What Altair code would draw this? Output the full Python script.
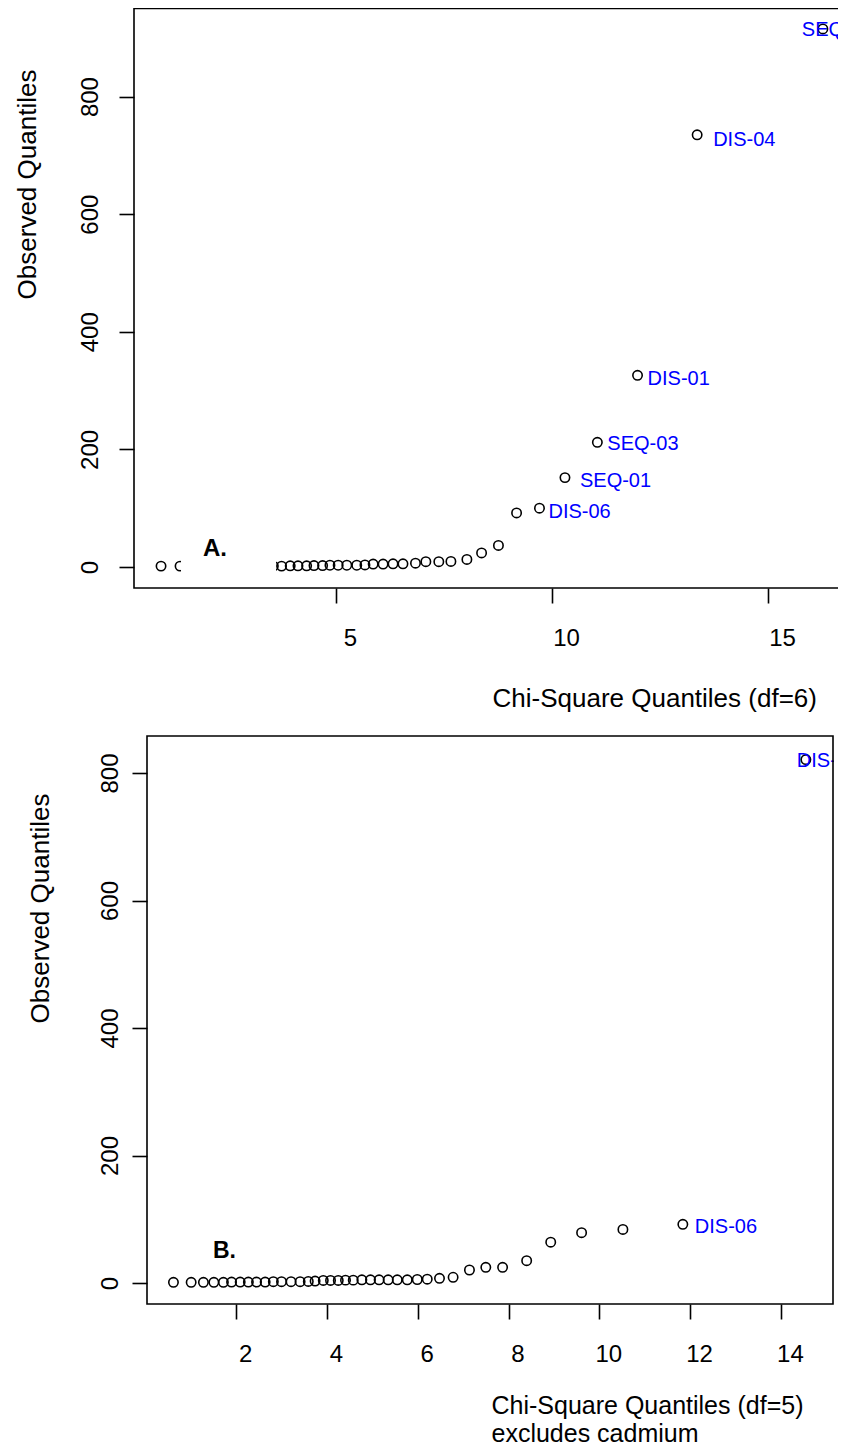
import altair as alt
import pandas as pd

# ---------------- data ----------------
# Panel A: Chi-square quantiles (df=6) vs observed quantiles
a_chisq = [0.95, 1.39, 3.55, 3.74, 3.94, 4.12, 4.32, 4.49, 4.69, 4.86,
           5.05, 5.25, 5.48, 5.67, 5.86, 6.09, 6.32, 6.55, 6.84, 7.08,
           7.38, 7.66, 8.03, 8.37, 8.76, 9.18, 9.71, 10.30, 11.05, 11.98,
           13.36, 16.27]
a_obs = [1.5, 1.5, 1.5, 1.5, 2, 2, 2, 2.5, 2.5, 3,
         3, 3, 3, 3.5, 5, 5, 5.5, 5.5, 6.5, 9,
         9, 9.5, 12.8, 24, 36.6, 92, 100, 152, 212, 326,
         735, 915]
a_names = [""] * 26 + ["DIS-06", "SEQ-01", "SEQ-03", "DIS-01", "DIS-04", "SEQ-02"]

# Panel B: Chi-square quantiles (df=5), cadmium excluded
b_chisq = [0.62, 1.01, 1.28, 1.51, 1.72, 1.90, 2.09, 2.27, 2.45, 2.64,
           2.82, 3.00, 3.21, 3.41, 3.59, 3.74, 3.92, 4.08, 4.25, 4.41,
           4.58, 4.77, 4.96, 5.15, 5.35, 5.55, 5.77, 5.99, 6.21, 6.48,
           6.78, 7.14, 7.50, 7.87, 8.40, 8.93, 9.61, 10.52, 11.84, 14.55]
b_obs = [1, 1, 1, 1, 1, 1.5, 1.5, 1.5, 1.5, 1.5,
         2, 2, 2, 2, 2.5, 3, 4, 4, 4, 4.5,
         4.5, 5, 5, 5, 5, 5, 5, 5.5, 6, 7.3,
         9, 20.4, 24.6, 24.6, 35, 64, 79, 84, 92, 821]
b_names = [""] * 38 + ["DIS-06", "DIS-04"]

a_ticks_x = [5, 10, 15]
b_ticks_x = [2, 4, 6, 8, 10, 12, 14]
ticks_y = [0, 200, 400, 600, 800]

title_a_x = "Chi-Square Quantiles (df=6)"
title_b_x = ["Chi-Square Quantiles (df=5)", "excludes cadmium"]
title_y = "Observed Quantiles"

# ---------------- layout / style (pixels) ----------------
W, H = 830, 1440
FONT = "Liberation Sans"
BLUE = "#0000ff"
LW = 1.6

# label offsets (dx, dy) in px
a_label_off = {"DIS-06": (9, 4), "SEQ-01": (15, 3), "SEQ-03": (10, 2),
               "DIS-01": (10, 4), "DIS-04": (16, 5), "SEQ-02": (-21, 1)}
b_label_off = {"DIS-06": (12, 3), "DIS-04": (-9, 1)}

# scale domains chosen so that each panel lands at its pixel position
A_X = [(8 - 120) / 43.2, (8 + W - 120) / 43.2]
A_Y = [(567 - 8 - H) / 0.588, (567 - 8) / 0.588]
B_X = [(8 - 145.3) / 45.4, (8 + W - 145.3) / 45.4]
B_Y = [(1283 - 8 - H) / 0.6375, (1283 - 8) / 0.6375]

dfA = pd.DataFrame({"x": a_chisq, "y": a_obs, "name": a_names})
dfB = pd.DataFrame({"x": b_chisq, "y": b_obs, "name": b_names})
one = pd.DataFrame({"k": [0]})


def axis_common(**kw):
    base = dict(domain=False, grid=False, tickSize=15, tickWidth=LW,
                tickColor="black", labelFont=FONT, labelFontSize=24,
                labelColor="black", labelFlush=False, labelOverlap=False,
                titleFont=FONT, titleFontSize=26, titleFontWeight="normal",
                titleColor="black")
    base.update(kw)
    return alt.Axis(**base)


def panel_layers(df, xdom, ydom, xaxis, yaxis, offsets, frame, mask, tag):
    xs = alt.Scale(domain=xdom, nice=False, zero=False)
    ys = alt.Scale(domain=ydom, nice=False, zero=False)
    layers = [alt.Chart(df).mark_point(shape="circle", filled=False,
                                       color="black", strokeWidth=1.6,
                                       size=88, opacity=1).encode(
        x=alt.X("x:Q", scale=xs, axis=xaxis),
        y=alt.Y("y:Q", scale=ys, axis=yaxis),
    )]
    for name, (dx, dy) in offsets.items():
        layers.append(
            alt.Chart(df).transform_filter(alt.datum.name == name).mark_text(
                align="left", baseline="middle", dx=dx, dy=dy, fontSize=20,
                font=FONT, color=BLUE).encode(
                x=alt.X("x:Q", scale=xs, axis=None),
                y=alt.Y("y:Q", scale=ys, axis=None),
                text="name:N")
        )
    layers.append(alt.Chart(one).mark_rect(color="white").encode(
        x=alt.value(mask[0]), x2=alt.value(mask[1]),
        y=alt.value(mask[2]), y2=alt.value(mask[3])))
    layers.append(alt.Chart(one).mark_text(
        text=tag[0], font=FONT, fontWeight="bold", fontSize=tag[3],
        align="left", baseline="alphabetic", color="black").encode(
        x=alt.value(tag[1]), y=alt.value(tag[2])))
    layers.append(alt.Chart(one).mark_rect(
        fillOpacity=0, stroke="black", strokeWidth=LW).encode(
        x=alt.value(frame[0]), x2=alt.value(frame[1]),
        y=alt.value(frame[2]), y2=alt.value(frame[3])))
    return layers


axA_x = axis_common(values=a_ticks_x, orient="bottom", offset=-(H - 580),
                    labelPadding=23, labelBaseline="top", labelOffset=14,
                    title=title_a_x, titleX=484, titleY=118,
                    titleAlign="left", titleBaseline="alphabetic")
axA_y = axis_common(values=ticks_y, orient="left", offset=-126,
                    labelAngle=270, labelAlign="center",
                    labelBaseline="alphabetic", labelPadding=22,
                    title=title_y, titleAngle=270, titleAlign="center",
                    titleBaseline="alphabetic", titleX=-99, titleY=176)
axB_x = axis_common(values=b_ticks_x, orient="bottom", offset=-(H - 1296),
                    labelPadding=23, labelBaseline="top", labelOffset=9,
                    title=title_b_x, titleX=483, titleY=109,
                    titleFontSize=25,
                    titleAlign="left", titleBaseline="alphabetic",
                    titleLineHeight=28)
axB_y = axis_common(values=ticks_y, orient="left", offset=-139,
                    labelAngle=270, labelAlign="center",
                    labelBaseline="alphabetic", labelPadding=15,
                    title=title_y, titleAngle=270, titleAlign="center",
                    titleBaseline="alphabetic", titleX=-99, titleY=900)

layers = panel_layers(dfA, A_X, A_Y, axA_x, axA_y, a_label_off,
                      frame=(126, 845, 0.5, 580), mask=(173, 268, 518, 568),
                      tag=("A.", 195, 548, 24))
layers += panel_layers(dfB, B_X, B_Y, axB_x, axB_y, b_label_off,
                       frame=(139, 825, 728, 1296), mask=(826, 840, 735, 780),
                       tag=("B.", 205, 1250, 23))

chart = alt.layer(*layers).resolve_scale(
    x="independent", y="independent"
).properties(
    width=W, height=H, padding=0,
    autosize=alt.AutoSizeParams(type="none"),
    background="white",
).configure_view(stroke=None)

chart.save("out.html", embed_options={"renderer": "svg", "actions": False})
